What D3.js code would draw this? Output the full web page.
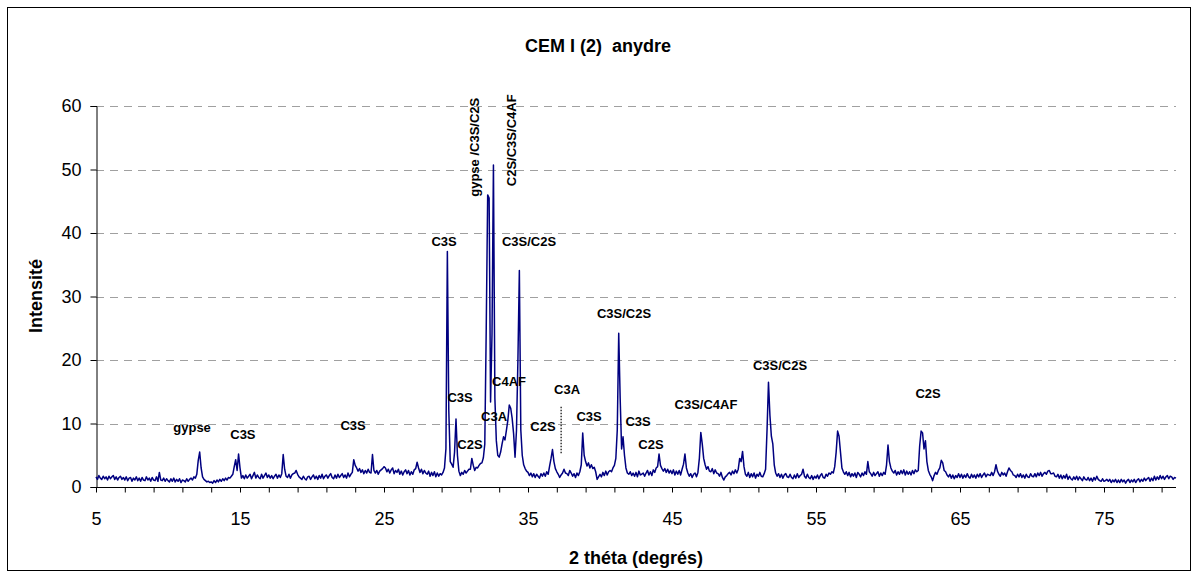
<!DOCTYPE html>
<html><head><meta charset="utf-8">
<script src="https://cdn.jsdelivr.net/npm/d3@7"></script>
<style>body{margin:0;background:#fff} text{font-family:"Liberation Sans",Arial,Helvetica,sans-serif}</style>
</head><body><svg id="c" width="1199" height="579"></svg>
<script>
// 2θ sampling: start and step (degrees)
const thetaStart = 5;
const thetaStep = 0.1;
// Intensity, one row per degree (n.0 .. n.9)
const intensity = [
 1.6,1.2,1.8,1.4,1.2,1.7,1.3,1.6,1.1,1.7, // 5
 1.3,1.6,1.8,1.2,1.6,1.1,1.5,1.7,1.2,1.5, // 6
 1.1,1.6,1.0,1.4,1.5,0.9,1.4,1.1,1.6,1.0, // 7
 1.4,0.9,1.5,1.1,1.0,1.6,1.1,1.4,0.9,1.5, // 8
 1.1,1.0,1.6,0.9,2.3,1.1,1.0,1.4,0.9,1.3, // 9
 1.0,0.8,1.3,0.9,1.4,0.8,1.2,0.9,1.3,0.7, // 10
 1.1,1.0,0.8,1.3,0.9,1.2,1.4,1.1,1.6,1.4, // 11
 2.0,4.2,5.5,3.0,1.6,1.2,1.0,0.8,0.9,0.7, // 12
 0.8,0.6,1.0,0.7,1.1,0.8,1.2,0.9,1.3,1.0, // 13
 1.4,1.1,1.5,1.4,1.7,2.0,3.2,4.3,2.6,5.2, // 14
 3.0,1.4,1.8,1.3,1.9,1.4,1.7,2.0,1.3,1.8, // 15
 2.3,1.4,1.9,1.5,1.3,2.0,1.4,1.8,2.2,1.5, // 16
 1.9,1.4,1.8,1.3,1.7,2.0,1.4,1.9,1.5,2.1, // 17
 5.1,2.8,1.7,1.5,2.0,1.4,1.9,2.1,2.2,2.6, // 18
 2.0,1.6,1.4,1.2,1.7,1.3,1.1,1.6,1.7,1.2, // 19
 1.6,1.9,1.3,1.7,1.2,1.8,1.4,2.0,1.3,1.7, // 20
 1.9,1.4,1.8,2.1,1.5,1.3,1.9,1.4,2.0,1.5, // 21
 1.8,2.1,1.5,1.9,1.4,2.2,1.6,2.0,2.3,4.3, // 22
 3.4,3.0,2.5,2.9,2.3,2.7,2.1,2.6,2.2,2.8, // 23
 2.3,2.2,5.1,2.6,2.2,2.6,2.0,2.5,2.7,2.9, // 24
 3.2,3.0,2.4,2.8,2.2,2.7,3.0,2.1,2.6,2.3, // 25
 2.8,2.0,2.5,1.9,2.4,2.7,2.1,2.6,1.9,2.4, // 26
 2.0,2.7,2.9,3.9,3.0,2.3,2.8,2.1,2.6,2.2, // 27
 2.0,2.5,1.7,2.3,1.8,2.4,1.6,2.2,1.7,2.1, // 28
 1.9,2.3,3.0,6.0,37.1,12.0,4.0,3.6,3.1,5.5, // 29
 10.7,5.0,2.5,1.8,2.3,2.0,2.6,2.2,2.5,2.8, // 30
 2.8,4.5,3.4,2.6,3.1,3.0,3.4,3.7,3.8,4.6, // 31
 6.8,25.0,46.0,45.5,13.4,24.0,50.7,14.0,7.3,5.0, // 32
 4.7,5.5,6.8,7.9,7.4,8.9,10.5,12.9,12.4,10.8, // 33
 8.4,4.7,8.9,20.0,34.1,9.0,5.0,3.5,2.9,2.5, // 34
 2.3,1.8,2.2,1.6,2.1,1.5,2.0,1.7,1.4,2.1, // 35
 1.7,2.2,1.7,2.4,2.0,3.3,4.5,5.9,4.0,2.9, // 36
 2.4,2.0,1.5,1.9,2.2,2.8,2.2,2.1,1.8,2.6, // 37
 2.2,1.7,2.1,1.5,2.2,1.8,2.4,3.5,8.5,5.0, // 38
 4.0,3.3,3.8,3.0,3.5,2.9,3.1,2.4,1.2,1.6, // 39
 2.0,1.6,2.3,1.8,2.5,1.9,2.4,2.6,2.4,3.0, // 40
 3.4,4.5,9.0,24.2,14.0,6.0,7.9,5.0,3.0,2.2, // 41
 2.0,2.4,1.8,2.2,1.7,2.3,1.6,2.5,1.9,2.0, // 42
 2.2,1.7,2.2,2.6,1.9,2.4,1.8,2.7,2.3,3.0, // 43
 3.2,5.2,3.4,2.9,2.5,2.9,2.3,2.8,2.2,2.6, // 44
 2.1,2.7,1.9,2.5,2.0,2.6,1.9,2.8,3.6,5.2, // 45
 3.0,2.2,1.7,2.1,1.5,2.0,2.2,1.6,2.3,4.5, // 46
 8.6,6.8,4.5,3.5,2.8,3.2,2.5,2.4,2.9,2.1, // 47
 2.7,2.2,2.1,1.7,2.3,1.5,1.1,1.6,1.8,2.1, // 48
 2.3,1.9,2.5,2.1,2.7,2.2,2.8,4.5,4.0,5.6, // 49
 3.2,2.0,1.7,2.3,1.5,2.1,1.6,2.2,1.4,2.0, // 50
 1.7,2.3,1.7,1.6,2.1,2.8,9.0,16.5,11.3,8.0, // 51
 6.8,3.5,2.2,1.7,2.1,1.5,2.0,1.4,1.9,2.1, // 52
 1.6,1.5,2.0,1.5,1.3,1.9,1.4,2.1,1.5,1.8, // 53
 2.0,2.8,1.7,1.4,2.0,1.5,1.3,1.8,1.2,1.7, // 54
 1.4,1.9,1.3,1.8,2.1,1.5,1.4,2.0,1.7,2.2, // 55
 2.0,2.4,2.2,3.2,5.5,8.8,8.0,5.5,3.0,2.4, // 56
 2.0,2.4,1.8,2.3,1.6,2.1,1.7,2.2,1.5,2.3, // 57
 2.0,1.6,2.2,1.8,2.4,2.0,4.0,2.4,2.1,1.7, // 58
 2.3,1.8,2.1,2.4,1.7,2.2,1.8,2.3,2.0,3.5, // 59
 6.6,4.0,3.0,2.5,2.2,2.6,1.9,2.4,2.0,2.6, // 60
 2.1,2.7,1.9,2.5,2.0,2.4,1.9,2.6,2.1,2.7, // 61
 2.4,2.6,6.5,8.8,8.5,6.0,7.3,4.0,2.6,2.0, // 62
 1.6,1.0,1.8,2.3,2.0,2.6,3.0,4.2,3.8,2.6, // 63
 2.4,1.9,1.6,2.0,1.4,1.9,1.3,1.8,1.5,2.1, // 64
 1.5,2.0,1.4,1.9,1.5,2.1,1.6,1.4,2.0,1.5, // 65
 1.9,1.4,2.0,1.6,2.1,1.5,1.9,2.2,1.6,2.0, // 66
 1.9,1.8,2.3,1.8,2.4,3.5,2.5,2.0,1.7,2.3, // 67
 1.9,2.2,1.7,2.4,3.0,2.6,2.4,1.9,1.8,1.5, // 68
 2.0,1.6,2.1,1.5,1.9,1.4,2.0,1.6,1.5,2.1, // 69
 1.7,1.6,2.1,1.6,2.2,1.8,2.3,1.7,2.1,2.3, // 70
 2.0,2.5,2.6,2.1,2.1,2.2,1.7,1.6,2.0,1.4, // 71
 1.9,1.3,1.8,1.4,2.0,1.2,1.7,1.3,1.1,1.6, // 72
 1.2,1.7,1.1,1.6,1.3,1.0,1.6,1.2,1.1,1.5, // 73
 1.0,1.4,0.9,1.5,1.1,1.7,1.2,1.0,0.9,1.3, // 74
 0.9,1.0,1.2,0.9,1.2,0.7,1.1,0.8,1.2,0.7, // 75
 1.1,0.7,1.2,0.8,1.1,0.6,1.0,1.2,0.7,1.1, // 76
 0.8,1.2,0.7,1.1,1.3,0.8,1.2,0.9,1.4,1.0, // 77
 1.3,1.5,0.9,1.4,1.0,1.7,1.1,1.6,1.2,1.8, // 78
 1.3,1.7,1.2,1.6,1.8,1.3,1.7,1.6,1.2,1.5, // 79
 1.4                                     // 80
];

const xDomain = [5, 80];
const yDomain = [0, 60];
const xTickValues = d3.range(5, 80, 2);
const xTickLabels = [5, 15, 25, 35, 45, 55, 65, 75];
const yTickValues = [0, 10, 20, 30, 40, 50, 60];

// Phase annotations (text, 2θ, intensity at label centre, rotated?)
const peakLabels = ["gypse","C3S","C3S","C3S","gypse /C3S/C2S","C2S/C3S/C4AF","C3S/C2S","C3S/C2S","C3S","C4AF","C3A","C3A","C2S","C2S","C3S","C3S","C2S","C3S/C4AF","C3S/C2S","C2S"];
const peakTheta  = [11.67,15.2,22.85,29.17,31.25,33.82,35.07,41.67,30.28,33.68,37.71,32.64,30.97,36.04,39.24,42.64,43.54,47.36,52.5,62.78];
const peakInt    = [9.4,8.3,9.7,38.6,53.5,54.6,38.7,27.4,14.1,16.6,15.4,11.1,6.7,9.5,11.1,10.3,6.7,13.0,19.2,14.7];
const peakRot    = [0,0,0,0,1,1,0,0,0,0,0,0,0,0,0,0,0,0,0,0];
// dotted marker (C3A)
const markerTheta = 37.3, markerFrom = 5.3, markerTo = 12.7;

const svg = d3.select("#c");
svg.append("rect").attr("x",7.5).attr("y",7.5).attr("width",1183).attr("height",563)
  .attr("fill","#fff").attr("stroke","#000").attr("stroke-width",1);

const x = d3.scaleLinear().domain(xDomain).range([96, 1176]);
const y = d3.scaleLinear().domain(yDomain).range([487, 106]);

// gridlines
svg.append("g").selectAll("line").data(yTickValues.filter(v => v > 0)).join("line")
  .attr("x1", x(5)).attr("x2", x(80))
  .attr("y1", d => Math.round(y(d)) + 0.5).attr("y2", d => Math.round(y(d)) + 0.5)
  .attr("stroke", "#a0a0a0").attr("stroke-width", 1).attr("stroke-dasharray", "8,6");

// Y axis
const yAxis = d3.axisLeft(y).tickValues(yTickValues).tickSize(6).tickPadding(9).tickFormat(d3.format("d"));
const gy = svg.append("g").attr("transform", "translate(96.5,0)").call(yAxis);
gy.select(".domain").attr("stroke","#000");
gy.selectAll(".tick line").attr("stroke","#000");
gy.selectAll(".tick text").attr("font-size", 18).attr("fill","#000")
  .attr("font-family",'"Liberation Sans",Arial,sans-serif');

// X axis
const xAxis = d3.axisBottom(x).tickValues(xTickValues).tickSize(5).tickPadding(20)
  .tickFormat(d => xTickLabels.includes(d) ? d : "");
const gx = svg.append("g").attr("transform", "translate(0,487.5)").call(xAxis);
gx.select(".domain").attr("stroke","#000").attr("d", `M${x(5)},0H${x(80)}`);
gx.selectAll(".tick line").attr("stroke","#000");
gx.selectAll(".tick text").attr("font-size", 18).attr("fill","#000")
  .attr("font-family",'"Liberation Sans",Arial,sans-serif');

// spectrum line
const line = d3.line().x((d, i) => x(thetaStart + i * thetaStep)).y(d => y(d));
svg.append("path").datum(intensity).attr("d", line)
  .attr("fill","none").attr("stroke","#000080").attr("stroke-width",1.5).attr("stroke-linejoin","round");

// dotted marker
svg.append("line").attr("x1", x(markerTheta)).attr("x2", x(markerTheta))
  .attr("y1", y(markerFrom)).attr("y2", y(markerTo))
  .attr("stroke","#000").attr("stroke-width",1.2).attr("stroke-dasharray","1.5,1.5");

// peak labels
svg.append("g").selectAll("text").data(peakLabels).join("text")
  .attr("transform", (d, i) => `translate(${x(peakTheta[i])},${y(peakInt[i])})` + (peakRot[i] ? " rotate(-90)" : ""))
  .attr("text-anchor","middle").attr("dominant-baseline","central")
  .attr("font-size", 13).attr("font-weight","bold").attr("fill","#000")
  .text(d => d);

// titles
svg.append("text").attr("x", 598).attr("y", 52).attr("text-anchor","middle")
  .attr("font-size", 18).attr("font-weight","bold").text("CEM I (2)  anydre").style("white-space","pre");
svg.append("text").attr("transform","translate(42,296) rotate(-90)").attr("text-anchor","middle")
  .attr("font-size", 18).attr("font-weight","bold").text("Intensité");
svg.append("text").attr("x", 636).attr("y", 564).attr("text-anchor","middle")
  .attr("font-size", 18).attr("font-weight","bold").text("2 théta (degrés)");
</script></body></html>
